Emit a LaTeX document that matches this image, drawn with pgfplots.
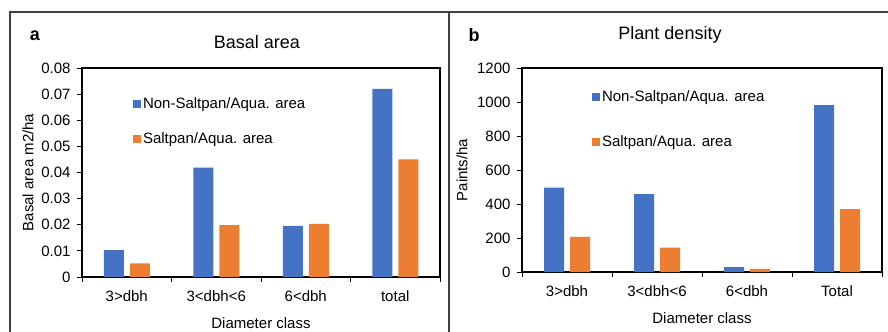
\documentclass[border=0pt]{standalone}
\usepackage{fontspec}
\setmainfont{Liberation Sans}
\usepackage{pgfplots}
\pgfplotsset{compat=1.18}
\definecolor{cblue}{HTML}{4472C4}
\definecolor{corange}{HTML}{ED7D31}
\definecolor{frm}{HTML}{404040}
\newcommand{\fs}{\fontsize{15bp}{18bp}\selectfont}
\pgfplotsset{
 mybar/.style={
  scale only axis, ybar=6bp, bar width=20bp,
  xmin=-0.5, xmax=3.5, xtick={-0.5,0.5,1.5,2.5,3.5},
  x tick label as interval,
  xtick pos=bottom, ytick pos=left,
  ymin=0, scaled y ticks=false,
  tick align=outside, major tick length=5bp,
  tick style={draw=black, line width=0.8bp},
  axis line style={line width=1.2bp},
  tick label style={font=\fs},
  xticklabel style={yshift=-5bp},
  yticklabel style={xshift=-3bp},
  label style={font=\fs},
  /pgf/number format/assume math mode=true,
  /pgf/number format/1000 sep={},
  xlabel style={at={(axis description cs:0.5,0)}, anchor=center, yshift=-46bp},
  legend style={draw=none, fill=none, font=\fs, inner sep=0pt, anchor=north west, cells={anchor=west}},
  legend image code/.code={\fill[#1,draw=none] (0bp,-4bp) rectangle (8bp,4bp);},
 }
}
\begin{document}
\begin{tikzpicture}[x=1bp,y=1bp]
\useasboundingbox (0,0) rectangle (888,331);
\draw[frm, line width=1.5bp] (10,-5) -- (10,319) -- (893,319);
\draw[frm, line width=1.5bp] (449,-5) -- (449,319);
\node[font=\fontsize{18bp}{21bp}\selectfont\bfseries] at (35,295) {a};
\node[font=\fontsize{18bp}{21bp}\selectfont] at (257,289) {Basal area};
\node[font=\fontsize{18bp}{21bp}\selectfont\bfseries] at (474,296) {b};
\node[font=\fontsize{18bp}{21bp}\selectfont] at (670,296) {Plant density};

\begin{axis}[mybar, at={(82bp,54bp)}, anchor=south west, width=358bp, height=209bp,
  ymax=0.08, ytick={0,0.01,0.02,0.03,0.04,0.05,0.06,0.07,0.08},
  yticklabels={0,0.01,0.02,0.03,0.04,0.05,0.06,0.07,0.08},
  xticklabels={3>dbh,3<dbh<6,6<dbh,total},
  xlabel={Diameter class}, ylabel={Basal area m2/ha},
  ylabel style={at={(axis description cs:0,0.5)}, anchor=center, yshift=54bp},
  legend style={at={(axis description cs:0.142,0.87)}, row sep=19bp}]
\addplot[fill=cblue, draw=none] coordinates {(0,0.0103) (1,0.0419) (2,0.0196) (3,0.0720)};
\addplot[fill=corange, draw=none] coordinates {(0,0.0052) (1,0.0199) (2,0.0203) (3,0.0450)};
\legend{Non-Saltpan/Aqua. area, Saltpan/Aqua. area}
\end{axis}

\begin{axis}[mybar, at={(522bp,59bp)}, anchor=south west, width=360bp, height=204bp,
  ymax=1200, ytick={0,200,400,600,800,1000,1200},
  xticklabels={3>dbh,3<dbh<6,6<dbh,Total},
  xlabel={Diameter class}, ylabel={Paints/ha},
  ylabel style={at={(axis description cs:0,0.5)}, anchor=center, yshift=60bp},
  legend style={at={(axis description cs:0.194,0.90)}, row sep=29bp}]
\addplot[fill=cblue, draw=none] coordinates {(0,497) (1,458) (2,29) (3,981)};
\addplot[fill=corange, draw=none] coordinates {(0,206) (1,143) (2,18) (3,370)};
\legend{Non-Saltpan/Aqua. area, Saltpan/Aqua. area}
\end{axis}
\end{tikzpicture}
\end{document}
